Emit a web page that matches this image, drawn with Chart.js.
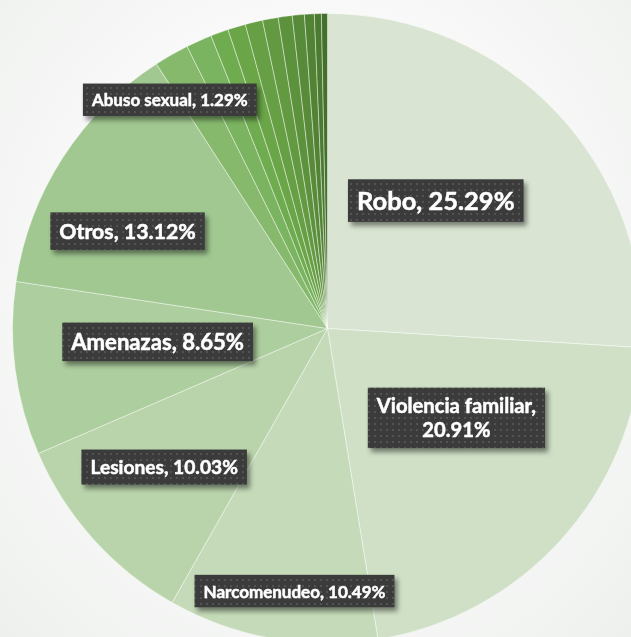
<!DOCTYPE html>
<html><head><meta charset="utf-8">
<script src="https://cdn.jsdelivr.net/npm/chart.js@4.4.1/dist/chart.umd.min.js"></script>
<style>
html,body{margin:0;padding:0;overflow:hidden;width:631px;height:637px;}
#wrap{position:absolute;left:0;top:0;width:631px;height:637px;overflow:hidden;
background: radial-gradient(ellipse at 50% 45%, #ffffff 0%, #f8f9f8 55%, #eef0ee 100%);}
#c{position:absolute;left:12px;top:13px;}
</style></head><body>
<div id="wrap"><canvas id="c" width="631" height="631"></canvas></div>
<script>
// Categories (clockwise from 12 o'clock)
const categories = [
  "Robo", "Violencia familiar", "Narcomenudeo", "Lesiones", "Amenazas", "Otros",
  "Sin etiqueta 1", "Abuso sexual",
  "Sin etiqueta 2", "Sin etiqueta 3", "Sin etiqueta 4", "Sin etiqueta 5", "Sin etiqueta 6",
  "Sin etiqueta 7", "Sin etiqueta 8", "Sin etiqueta 9", "Sin etiqueta 10"
];
const values = [
  25.29, 20.91, 10.49, 10.03, 8.65, 13.12,
  1.74, 1.29,
  0.89, 0.89, 0.87, 0.78, 0.70,
  0.60, 0.49, 0.35, 0.30
];
// Which slices carry a data label
const showLabel = [true, true, true, true, true, true, false, true,
  false, false, false, false, false, false, false, false, false];

// ---- styles ----
const sliceColors = [
  "#d9e5d2", "#cfe0c6", "#c4dab8", "#b9d4ab", "#adce9e", "#a1c891",
  "#87b96d", "#7bb461",
  "#6fac4f", "#6aa548", "#669f44", "#629941", "#5d923d",
  "#588b39", "#528335", "#4b7a31", "#43702b"
];
// label placement: radial fraction, angle offset (deg), font size, line break
const labelStyle = {
  0: {frac: 0.532, dAng: -6.5, size: 25.5, wrap: false},
  1: {frac: 0.498, dAng: -7.4, size: 20.2, wrap: true},
  2: {frac: 0.84,  dAng: -3.0, size: 17,   wrap: false},
  3: {frac: 0.68,  dAng: 1.6,  size: 19.2, wrap: false},
  4: {frac: 0.541, dAng: 2.9,  size: 22.1, wrap: false},
  5: {frac: 0.706, dAng: -6.9, size: 21.3, wrap: false},
  7: {frac: 0.882, dAng: -10.5, size: 17,  wrap: false}
};

function makePattern(ctx){
  const p = document.createElement('canvas');
  p.width = 6; p.height = 6;
  const g = p.getContext('2d');
  g.fillStyle = '#3b3b3b'; g.fillRect(0,0,6,6);
  g.fillStyle = '#535353'; g.fillRect(2,2,2,2);
  return ctx.createPattern(p, 'repeat');
}

const labelPlugin = {
  id: 'boxLabels',
  afterDatasetsDraw(chart){
    const ctx = chart.ctx;
    const meta = chart.getDatasetMeta(0);
    const pattern = makePattern(ctx);
    meta.data.forEach((arc, i) => {
      if (!showLabel[i]) return;
      const st = labelStyle[i];
      const p = arc.getProps(['x','y','startAngle','endAngle','outerRadius'], true);
      const mid = (p.startAngle + p.endAngle) / 2 + st.dAng * Math.PI / 180;
      const cx = p.x + Math.cos(mid) * st.frac * p.outerRadius;
      const cy = p.y + Math.sin(mid) * st.frac * p.outerRadius;
      const pct = values[i].toFixed(2) + '%';
      const lines = st.wrap ? [categories[i] + ',', pct] : [categories[i] + ', ' + pct];
      ctx.save();
      ctx.font = 'bold ' + st.size + 'px Lato, "Open Sans", sans-serif';
      const lh = st.size * 1.2;
      let w = 0;
      lines.forEach(l => { w = Math.max(w, ctx.measureText(l).width); });
      const bw = w + 18, bh = lines.length * lh + 12;
      const bx = cx - bw / 2, by = cy - bh / 2;
      ctx.shadowColor = 'rgba(0,0,0,0.45)';
      ctx.shadowOffsetX = 3; ctx.shadowOffsetY = 4; ctx.shadowBlur = 5;
      ctx.fillStyle = pattern;
      ctx.fillRect(bx, by, bw, bh);
      ctx.shadowColor = 'transparent';
      ctx.fillStyle = '#ffffff';
      ctx.strokeStyle = '#ffffff';
      ctx.lineWidth = 0.5;
      ctx.textAlign = 'center';
      ctx.textBaseline = 'middle';
      lines.forEach((l, k) => {
        const ty = by + 6 + lh * (k + 0.5) + 1;
        ctx.fillText(l, cx, ty);
        ctx.strokeText(l, cx, ty);
      });
      ctx.restore();
    });
  }
};

new Chart(document.getElementById('c'), {
  type: 'pie',
  data: {
    labels: categories,
    datasets: [{
      data: values,
      backgroundColor: sliceColors,
      borderColor: 'rgba(255,255,255,0.55)',
      borderWidth: 0.75,
      hoverOffset: 0,
      offset: 0,
      radius: 315
    }]
  },
  options: {
    responsive: false,
    animation: false,
    layout: {padding: 0},
    plugins: {legend: {display: false}, tooltip: {enabled: false}}
  },
  plugins: [labelPlugin]
});
</script>
</body></html>
